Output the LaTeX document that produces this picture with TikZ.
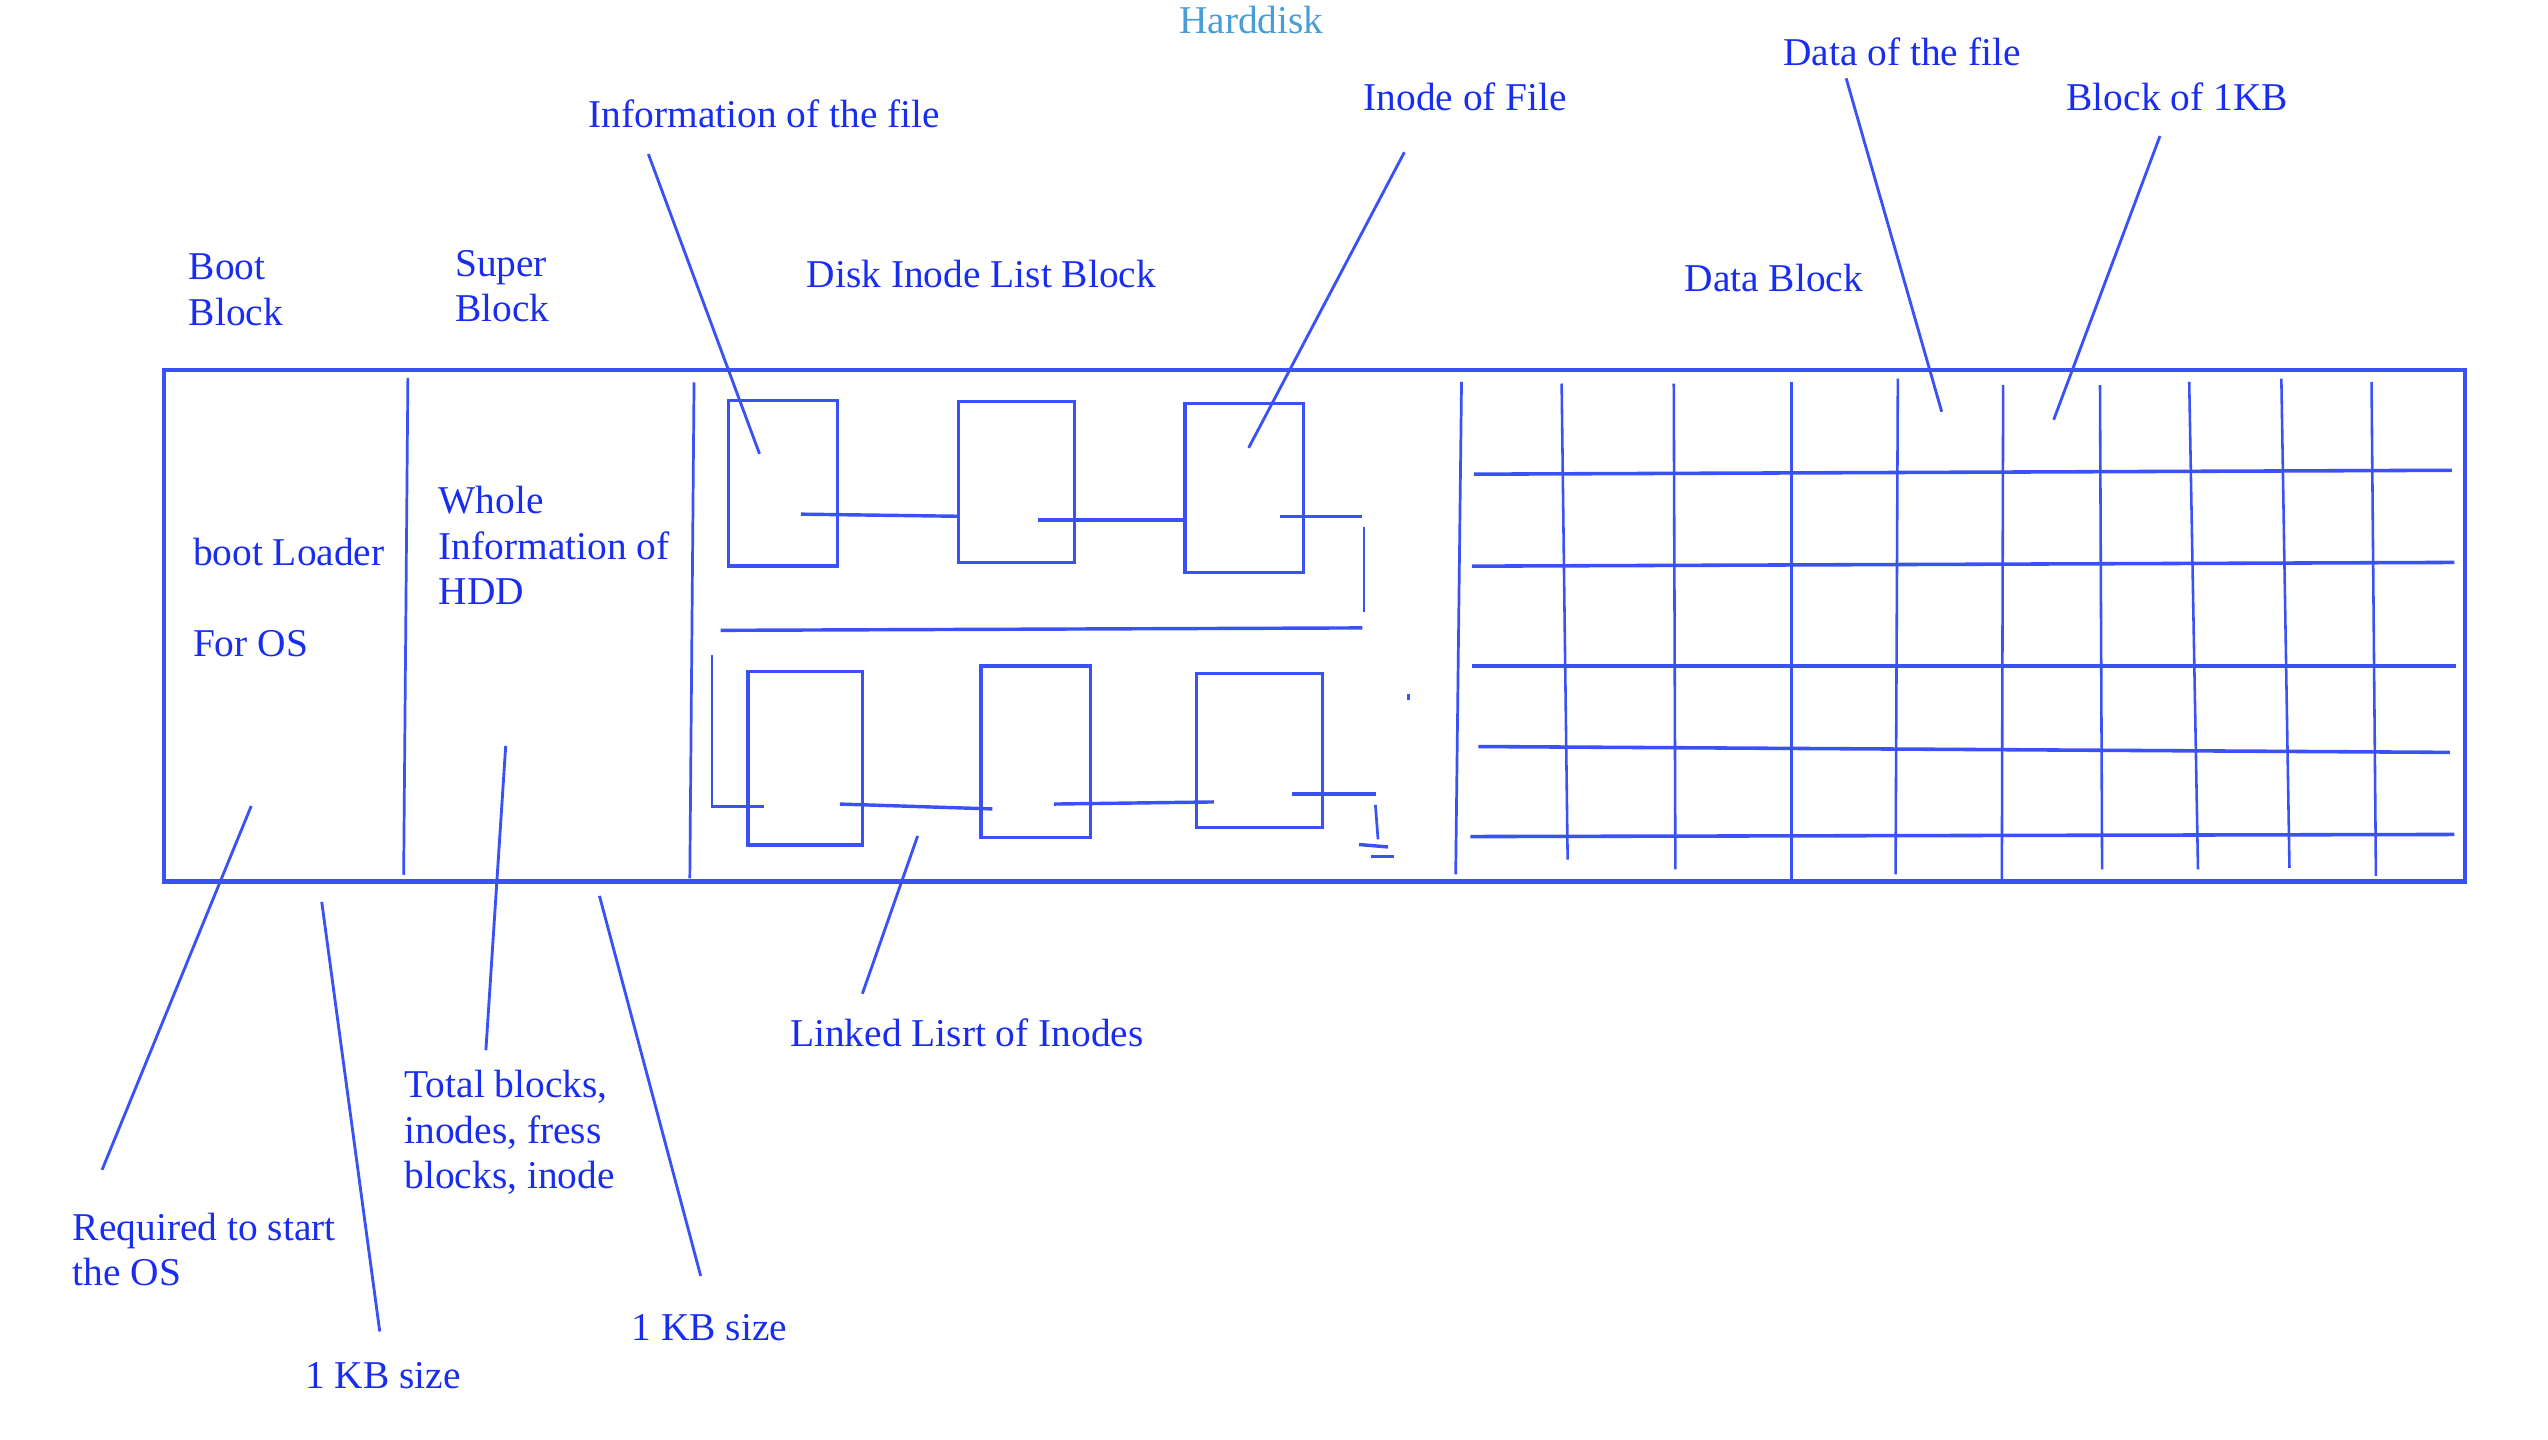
\documentclass[tikz,border=0pt]{standalone}
\usepackage{fontspec}
\setmainfont{Liberation Serif}
\definecolor{ink}{RGB}{58,82,245}
\definecolor{txt}{RGB}{25,45,240}
\definecolor{hdd}{RGB}{72,158,212}
\begin{document}
\begin{tikzpicture}[x=0.02cm,y=-0.02cm,
  lbl/.style={anchor=base west,inner sep=0pt,outer sep=0pt,align=left,text=txt,font=\fontsize{13.8}{15.9}\selectfont},
  frame/.style={draw=ink,line width=1.5pt},
  ln/.style={draw=ink,line width=0.95pt},
  leader/.style={draw=ink,line width=1pt},
  ibox/.style={draw=ink,line width=1.2pt},
  gridv/.style={draw=ink,line width=0.9pt},
  gridh/.style={draw=ink,line width=1.25pt}]
\useasboundingbox (0,0) rectangle (1568,886);

% title
\node[lbl,text=hdd] (title) at (725.6,20.5) {Harddisk};

% disk frame and partitions
\draw[frame] (101,227.5) rectangle (1517,542.5);
\coordinate (s1t) at (251,232.6);   \coordinate (s1b) at (248.4,538.3);
\coordinate (s2t) at (427.1,235.3); \coordinate (s2b) at (424.5,540.5);
\coordinate (s3t) at (899.4,235);   \coordinate (s3b) at (895.8,538);
\draw[ln] (s1t) -- (s1b);
\draw[ln] (s2t) -- (s2b);
\draw[ln] (s3t) -- (s3b);

% section labels (multi-line nodes: base = last line)
\node[lbl] (boot)  at (116.3,200) {Boot\\Block};
\node[lbl] (super) at (280.1,198) {Super\\Block};
\node[lbl] (dil)   at (496.5,176.8) {Disk Inode List Block};
\node[lbl] (dblk)  at (1036.7,179.5) {Data Block};
\node[lbl] (bl)    at (118.8,404.2) {boot Loader\\[0.56cm]For OS};
\node[lbl] (whole) at (269.9,372) {Whole\\Information of\\HDD};

% callout labels
\node[lbl] (info)  at (362.3,78.6) {Information of the file};
\node[lbl] (inode) at (839.2,68.3) {Inode of File};
\node[lbl] (dof)   at (1097.4,40) {Data of the file};
\node[lbl] (b1kb)  at (1271.8,68.3) {Block of 1KB};
\node[lbl] (req)   at (44.9,791) {Required to start\\the OS};
\node[lbl] (tot)   at (249,731.4) {Total blocks,\\inodes, fress\\blocks, inode};
\node[lbl] (kb1)   at (187.8,854.2) {1 KB size};
\node[lbl] (kb2)   at (388.8,825.2) {1 KB size};
\node[lbl] (llist) at (486.3,644) {Linked Lisrt of Inodes};

% leader lines
\coordinate (infoA) at (399,94.8);    \coordinate (infoB) at (467.4,279.3);
\coordinate (inoA)  at (864.2,93.7);  \coordinate (inoB)  at (768.4,275.6);
\coordinate (dofA)  at (1136.1,48.2); \coordinate (dofB)  at (1194.9,253.4);
\coordinate (bkA)   at (1329.2,83.7); \coordinate (bkB)   at (1263.8,258.3);
\coordinate (reqA)  at (154.6,496);   \coordinate (reqB)  at (62.8,719.9);
\coordinate (k1A)   at (198,555);     \coordinate (k1B)   at (233.7,819.4);
\coordinate (totA)  at (311.2,459);   \coordinate (totB)  at (299,646.3);
\coordinate (k2A)   at (368.9,551.3); \coordinate (k2B)   at (431.2,785.2);
\coordinate (llA)   at (564.7,514.4); \coordinate (llB)   at (530.7,611.5);
\draw[leader] (infoA) -- (infoB);
\draw[leader] (inoA) -- (inoB);
\draw[leader] (dofA) -- (dofB);
\draw[leader] (bkA) -- (bkB);
\draw[leader] (reqA) -- (reqB);
\draw[leader] (k1A) -- (k1B);
\draw[leader] (totA) -- (totB);
\draw[leader] (k2A) -- (k2B);
\draw[leader] (llA) -- (llB);

% inode boxes
\draw[ibox] (448.2,246.5) rectangle (515.5,348.3);
\draw[ibox] (589.8,247) rectangle (661.2,346.2);
\draw[ibox] (729.1,248.4) rectangle (802.1,352.3);
\draw[ibox] (460.2,413.2) rectangle (530.6,520.1);
\draw[ibox] (603.6,409.8) rectangle (671,515.2);
\draw[ibox] (736.2,414.6) rectangle (813.8,509.1);

% linked list connectors
\draw[ibox] (492.9,316.4) -- (589.8,317.7);
\draw[ibox] (638.8,320) -- (728.6,320);
\draw[ibox] (787.7,317.7) -- (838.3,317.7);
\draw[ln]   (839.4,324) -- (839.4,376.6);
\draw[ibox] (443.4,387.9) -- (838.3,386.4);
\draw[ln]   (438.2,403) -- (438.2,497.4);
\draw[ibox] (438.2,496.4) -- (470.4,496.4);
\draw[ibox] (516.9,494.8) -- (610.7,497.8);
\draw[ibox] (648.5,494.8) -- (747,493.5);
\draw[ibox] (795,488.7) -- (847,488.7);
\draw[ln]   (846.4,495.3) -- (848,516.5);
\draw[ibox] (836.3,519.7) -- (854.2,521.2);
\draw[ibox] (843.4,527.1) -- (857.7,527.1);
\draw[ibox] (866.9,427.2) -- (866.9,430.8);

% data block grid
\draw[gridv] (961,236) -- (964.7,529);
\draw[gridv] (1030,236) -- (1031,535);
\draw[gridv] (1102.5,235) -- (1102.5,541);
\draw[gridv] (1167.9,233) -- (1166.5,538);
\draw[gridv] (1232.7,237) -- (1231.9,542);
\draw[gridv] (1292.3,237) -- (1293.6,535);
\draw[gridv] (1347.2,235) -- (1352.6,535);
\draw[gridv] (1403.9,233) -- (1408.9,534);
\draw[gridv] (1459.4,235) -- (1462.1,539);
\draw[gridh] (907,291.8) -- (1508.9,289.4);
\draw[gridh] (905.7,348.4) -- (1510.3,346.1);
\draw[gridh] (905.7,410) -- (1511.1,410);
\draw[gridh] (909.7,459.4) -- (1507.6,463);
\draw[gridh] (904.8,514.8) -- (1510.3,513.5);
\end{tikzpicture}
\end{document}
